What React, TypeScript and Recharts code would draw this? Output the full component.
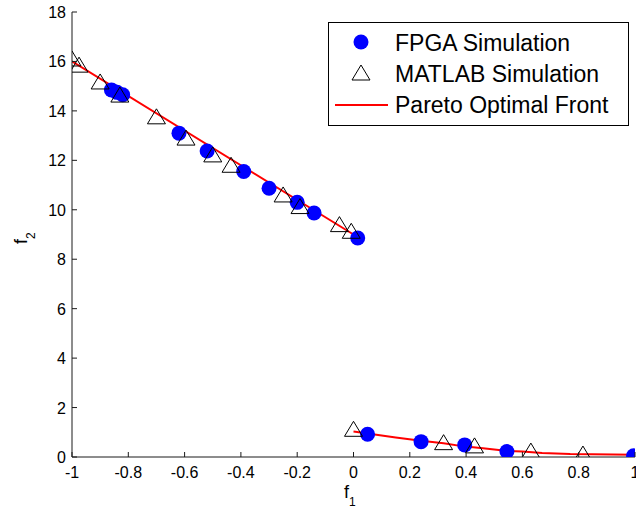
import {
  ComposedChart, Scatter, Line, XAxis, YAxis, Legend, Label
} from 'recharts';

interface Pt {
  x: number;
  y: number;
}

// FPGA simulation results (blue dots)
const fpgaX = [-0.86, -0.84, -0.82, -0.62, -0.52, -0.39, -0.3, -0.2, -0.14, 0.015, 0.05, 0.24, 0.395, 0.545, 0.995];
const fpgaY = [14.85, 14.75, 14.65, 13.1, 12.38, 11.55, 10.87, 10.3, 9.87, 8.86, 0.92, 0.62, 0.49, 0.22, 0.05];

// MATLAB simulation results (triangles)
const matlabX = [-1.0, -0.975, -0.9, -0.83, -0.7, -0.595, -0.5, -0.435, -0.25, -0.19, -0.05, -0.008, 0.0, 0.32, 0.43, 0.63, 0.815];
const matlabY = [16.1, 15.85, 15.17, 14.64, 13.76, 12.9, 12.22, 11.8, 10.6, 10.13, 9.4, 9.13, 1.12, 0.58, 0.45, 0.24, 0.12];

// Pareto optimal front, two disconnected pieces
const frontUpperX = [-1.0, 0.0];
const frontUpperY = [16.0, 9.0];
const frontLowerX = [0.0, 0.15, 0.24, 0.32, 0.39, 0.46, 0.54, 0.6, 0.67, 0.77, 1.0];
const frontLowerY = [1.03, 0.79, 0.66, 0.56, 0.43, 0.35, 0.25, 0.22, 0.16, 0.12, 0.09];

const xTicks = [-1, -0.8, -0.6, -0.4, -0.2, 0, 0.2, 0.4, 0.6, 0.8, 1];
const yTicks = [0, 2, 4, 6, 8, 10, 12, 14, 16, 18];

const zip = (xs: number[], ys: number[]): Pt[] => xs.map((x, i) => ({ x, y: ys[i] }));

const fpga = zip(fpgaX, fpgaY);
const matlab = zip(matlabX, matlabY);
const frontUpper = zip(frontUpperX, frontUpperY);
const frontLower = zip(frontLowerX, frontLowerY);

const FONT = '"Liberation Sans", Arial, sans-serif';
const AXIS = '#1a1a1a';

const BlueDot = (props: any) => {
  const { cx, cy } = props;
  return <circle cx={cx} cy={cy} r={7.5} fill="#0000ff" />;
};

const Triangle = (props: any) => {
  const { cx, cy } = props;
  return (
    <polygon
      points={`${cx},${cy - 8} ${cx - 9},${cy + 7} ${cx + 9},${cy + 7}`}
      fill="none"
      stroke="#000"
      strokeWidth={1}
    />
  );
};

const LeftTick = (props: any) => {
  const { x, y, payload } = props;
  return (
    <g>
      <line x1={x + 6} x2={x + 11} y1={y} y2={y} stroke={AXIS} />
      <text x={x} y={y + 6} textAnchor="end" fontSize={16} fontFamily={FONT} fill="#000">
        {payload.value}
      </text>
    </g>
  );
};

const BottomTick = (props: any) => {
  const { x, y, payload } = props;
  return (
    <g>
      <line x1={x} x2={x} y1={y} y2={y - 5} stroke={AXIS} />
      <text x={x} y={y + 21} textAnchor="middle" fontSize={16} fontFamily={FONT} fill="#000">
        {payload.value}
      </text>
    </g>
  );
};

const TopTick = (props: any) => {
  const { x, y } = props;
  return <line x1={x} x2={x} y1={y} y2={y + 5} stroke={AXIS} />;
};

const RightTick = (props: any) => {
  const { x, y } = props;
  return <line x1={x} x2={x - 5} y1={y} y2={y} stroke={AXIS} />;
};

const LegendBox = () => (
  <svg width={301} height={104} style={{ display: 'block' }}>
    <rect x={0.5} y={0.5} width={300} height={103} fill="#fff" stroke="#000" />
    <circle cx={33} cy={20} r={7.5} fill="#0000ff" />
    <polygon points="33,12 24,27 42,27" fill="none" stroke="#000" transform="translate(0,31)" />
    <line x1={7} x2={60} y1={83} y2={83} stroke="#ff0000" strokeWidth={2} />
    <text x={67} y={29} fontSize={23} fontFamily={FONT} fill="#000">FPGA Simulation</text>
    <text x={67} y={60} fontSize={23} fontFamily={FONT} fill="#000">MATLAB Simulation</text>
    <text x={67} y={91} fontSize={23} fontFamily={FONT} fill="#000">Pareto Optimal Front</text>
  </svg>
);

export default function App() {
  return (
    <div style={{ position: 'absolute', left: 0, top: 0, background: '#fff' }}>
      <ComposedChart width={636} height={511} margin={{ top: 12, right: 1, left: 0, bottom: 0 }}>
        <XAxis
          dataKey="x"
          type="number"
          domain={[-1, 1]}
          ticks={xTicks}
          height={54}
          tickSize={0}
          tickMargin={0}
          tickLine={false}
          tick={<BottomTick />}
          stroke={AXIS}
          interval={0}
          allowDataOverflow
        >
          <Label
            content={() => (
              <text x={344} y={498} fontSize={18} fontFamily={FONT} fill="#000">
                f<tspan fontSize={12} dy={8}>1</tspan>
              </text>
            )}
          />
        </XAxis>
        <XAxis
          xAxisId="top"
          orientation="top"
          type="number"
          domain={[-1, 1]}
          ticks={xTicks}
          height={0}
          tickSize={0}
          tickLine={false}
          tick={<TopTick />}
          stroke={AXIS}
          interval={0}
        />
        <YAxis
          dataKey="y"
          type="number"
          domain={[0, 18]}
          ticks={yTicks}
          width={72}
          tickSize={0}
          tickMargin={6}
          tickLine={false}
          tick={<LeftTick />}
          stroke={AXIS}
          interval={0}
          allowDataOverflow
        >
          <Label
            content={() => (
              <text transform="translate(27,244) rotate(-90)" fontSize={18} fontFamily={FONT} fill="#000">
                f<tspan fontSize={12} dy={8}>2</tspan>
              </text>
            )}
          />
        </YAxis>
        <YAxis
          yAxisId="right"
          orientation="right"
          type="number"
          domain={[0, 18]}
          ticks={yTicks}
          width={0}
          tickSize={0}
          tickLine={false}
          tick={<RightTick />}
          stroke={AXIS}
          interval={0}
        />
        <Scatter name="FPGA Simulation" data={fpga} dataKey="y" shape={<BlueDot />} isAnimationActive={false} />
        <Scatter name="MATLAB Simulation" data={matlab} dataKey="y" shape={<Triangle />} isAnimationActive={false} />
        <Line
          name="Pareto Optimal Front"
          data={frontUpper}
          dataKey="y"
          stroke="#ff0000"
          strokeWidth={2}
          dot={false}
          type="linear"
          isAnimationActive={false}
        />
        <Line
          data={frontLower}
          dataKey="y"
          stroke="#ff0000"
          strokeWidth={2}
          dot={false}
          type="linear"
          legendType="none"
          isAnimationActive={false}
        />
        <Legend
          layout="vertical"
          align="center"
          verticalAlign="middle"
          content={() => <LegendBox />}
          wrapperStyle={{ left: 328, top: 22, width: 301, height: 104 }}
        />
      </ComposedChart>
    </div>
  );
}
